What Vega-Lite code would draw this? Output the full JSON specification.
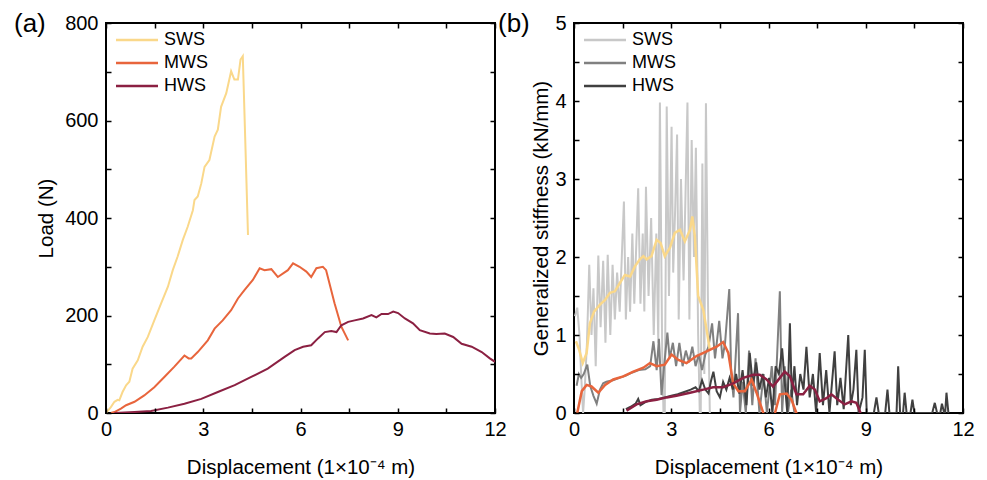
{
  "$schema": "https://vega.github.io/schema/vega-lite/v6.json",
  "padding": {"left": 13, "top": 10, "right": 5, "bottom": 2},
  "autosize": {"type": "pad"},
  "bounds": "flush",
  "spacing": 79,
  "datasets": {
    "load": [
      {"s":"SWS","x":0,"y":0},{"s":"SWS","x":0.15,"y":12},{"s":"SWS","x":0.26,"y":23},{"s":"SWS","x":0.36,"y":27},{"s":"SWS","x":0.41,"y":26},{"s":"SWS","x":0.51,"y":43},{"s":"SWS","x":0.62,"y":57},{"s":"SWS","x":0.72,"y":64},{"s":"SWS","x":0.82,"y":91},{"s":"SWS","x":0.98,"y":108},{"s":"SWS","x":1.13,"y":136},{"s":"SWS","x":1.29,"y":156},{"s":"SWS","x":1.49,"y":190},{"s":"SWS","x":1.7,"y":225},{"s":"SWS","x":1.91,"y":259},{"s":"SWS","x":2.06,"y":293},{"s":"SWS","x":2.21,"y":321},{"s":"SWS","x":2.37,"y":355},{"s":"SWS","x":2.52,"y":382},{"s":"SWS","x":2.68,"y":416},{"s":"SWS","x":2.73,"y":437},{"s":"SWS","x":2.83,"y":444},{"s":"SWS","x":2.94,"y":471},{"s":"SWS","x":3.04,"y":505},{"s":"SWS","x":3.19,"y":519},{"s":"SWS","x":3.35,"y":567},{"s":"SWS","x":3.45,"y":581},{"s":"SWS","x":3.55,"y":628},{"s":"SWS","x":3.71,"y":656},{"s":"SWS","x":3.86,"y":701},{"s":"SWS","x":3.96,"y":684},{"s":"SWS","x":4.07,"y":684},{"s":"SWS","x":4.15,"y":725},{"s":"SWS","x":4.22,"y":732},{"s":"SWS","x":4.3,"y":550},{"s":"SWS","x":4.38,"y":365},
      {"s":"MWS","x":0.15,"y":0},{"s":"MWS","x":0.26,"y":2},{"s":"MWS","x":0.46,"y":9},{"s":"MWS","x":0.62,"y":16},{"s":"MWS","x":0.88,"y":23},{"s":"MWS","x":1.18,"y":36},{"s":"MWS","x":1.49,"y":53},{"s":"MWS","x":1.8,"y":74},{"s":"MWS","x":2.11,"y":95},{"s":"MWS","x":2.42,"y":118},{"s":"MWS","x":2.55,"y":112},{"s":"MWS","x":2.63,"y":112},{"s":"MWS","x":2.83,"y":125},{"s":"MWS","x":3.14,"y":149},{"s":"MWS","x":3.35,"y":173},{"s":"MWS","x":3.6,"y":190},{"s":"MWS","x":3.86,"y":211},{"s":"MWS","x":4.07,"y":235},{"s":"MWS","x":4.27,"y":252},{"s":"MWS","x":4.53,"y":273},{"s":"MWS","x":4.74,"y":297},{"s":"MWS","x":4.89,"y":293},{"s":"MWS","x":5.1,"y":295},{"s":"MWS","x":5.3,"y":279},{"s":"MWS","x":5.61,"y":293},{"s":"MWS","x":5.77,"y":307},{"s":"MWS","x":5.97,"y":300},{"s":"MWS","x":6.18,"y":290},{"s":"MWS","x":6.33,"y":279},{"s":"MWS","x":6.49,"y":297},{"s":"MWS","x":6.69,"y":300},{"s":"MWS","x":6.79,"y":293},{"s":"MWS","x":7.05,"y":225},{"s":"MWS","x":7.26,"y":177},{"s":"MWS","x":7.47,"y":149},
      {"s":"HWS","x":0.26,"y":0},{"s":"HWS","x":0.88,"y":2},{"s":"HWS","x":1.39,"y":4},{"s":"HWS","x":1.91,"y":11},{"s":"HWS","x":2.42,"y":19},{"s":"HWS","x":2.94,"y":29},{"s":"HWS","x":3.45,"y":43},{"s":"HWS","x":3.97,"y":57},{"s":"HWS","x":4.48,"y":74},{"s":"HWS","x":4.99,"y":91},{"s":"HWS","x":5.51,"y":115},{"s":"HWS","x":5.82,"y":129},{"s":"HWS","x":6.08,"y":136},{"s":"HWS","x":6.33,"y":139},{"s":"HWS","x":6.54,"y":153},{"s":"HWS","x":6.75,"y":166},{"s":"HWS","x":6.95,"y":168},{"s":"HWS","x":7.11,"y":166},{"s":"HWS","x":7.26,"y":180},{"s":"HWS","x":7.47,"y":187},{"s":"HWS","x":7.67,"y":190},{"s":"HWS","x":7.93,"y":194},{"s":"HWS","x":8.19,"y":201},{"s":"HWS","x":8.34,"y":196},{"s":"HWS","x":8.5,"y":203},{"s":"HWS","x":8.7,"y":203},{"s":"HWS","x":8.86,"y":208},{"s":"HWS","x":9.01,"y":205},{"s":"HWS","x":9.22,"y":194},{"s":"HWS","x":9.47,"y":184},{"s":"HWS","x":9.68,"y":170},{"s":"HWS","x":9.99,"y":163},{"s":"HWS","x":10.19,"y":162},{"s":"HWS","x":10.45,"y":163},{"s":"HWS","x":10.71,"y":156},{"s":"HWS","x":10.97,"y":142},{"s":"HWS","x":11.28,"y":136},{"s":"HWS","x":11.59,"y":125},{"s":"HWS","x":11.84,"y":112},{"s":"HWS","x":12,"y":105}
    ],
    "raw": [
      {"s":"SWS","x":0.03,"y":1.24},{"s":"SWS","x":0.1,"y":1.35},{"s":"SWS","x":0.17,"y":1.0},{"s":"SWS","x":0.22,"y":0.5},{"s":"SWS","x":0.28,"y":0.0},{"s":"SWS","x":0.33,"y":0.3},{"s":"SWS","x":0.4,"y":0.9},{"s":"SWS","x":0.47,"y":1.9},{"s":"SWS","x":0.54,"y":1.0},{"s":"SWS","x":0.6,"y":1.6},{"s":"SWS","x":0.67,"y":0.6},{"s":"SWS","x":0.75,"y":2.02},{"s":"SWS","x":0.82,"y":1.1},{"s":"SWS","x":0.9,"y":1.95},{"s":"SWS","x":0.97,"y":0.9},{"s":"SWS","x":1.04,"y":2.03},{"s":"SWS","x":1.12,"y":1.0},{"s":"SWS","x":1.19,"y":1.9},{"s":"SWS","x":1.26,"y":1.2},{"s":"SWS","x":1.33,"y":1.8},{"s":"SWS","x":1.41,"y":1.3},{"s":"SWS","x":1.54,"y":2.71},{"s":"SWS","x":1.6,"y":1.2},{"s":"SWS","x":1.67,"y":2.0},{"s":"SWS","x":1.73,"y":1.3},{"s":"SWS","x":1.8,"y":2.3},{"s":"SWS","x":1.86,"y":1.4},{"s":"SWS","x":1.98,"y":2.88},{"s":"SWS","x":2.05,"y":1.4},{"s":"SWS","x":2.12,"y":2.3},{"s":"SWS","x":2.17,"y":1.3},{"s":"SWS","x":2.22,"y":2.9},{"s":"SWS","x":2.3,"y":1.5},{"s":"SWS","x":2.38,"y":2.5},{"s":"SWS","x":2.46,"y":1.0},{"s":"SWS","x":2.54,"y":2.3},{"s":"SWS","x":2.6,"y":0.9},{"s":"SWS","x":2.65,"y":3.98},{"s":"SWS","x":2.72,"y":0.8},{"s":"SWS","x":2.76,"y":0.0},{"s":"SWS","x":2.8,"y":0.0},{"s":"SWS","x":2.86,"y":3.93},{"s":"SWS","x":2.93,"y":1.5},{"s":"SWS","x":3.01,"y":3.67},{"s":"SWS","x":3.06,"y":1.8},{"s":"SWS","x":3.12,"y":2.6},{"s":"SWS","x":3.18,"y":3.57},{"s":"SWS","x":3.23,"y":1.2},{"s":"SWS","x":3.3,"y":3.0},{"s":"SWS","x":3.38,"y":1.7},{"s":"SWS","x":3.44,"y":2.8},{"s":"SWS","x":3.5,"y":3.98},{"s":"SWS","x":3.56,"y":1.2},{"s":"SWS","x":3.63,"y":3.5},{"s":"SWS","x":3.7,"y":2.0},{"s":"SWS","x":3.76,"y":3.4},{"s":"SWS","x":3.83,"y":1.0},{"s":"SWS","x":3.88,"y":0.0},{"s":"SWS","x":3.91,"y":0.0},{"s":"SWS","x":3.96,"y":3.2},{"s":"SWS","x":4.02,"y":0.5},{"s":"SWS","x":4.07,"y":3.97},{"s":"SWS","x":4.13,"y":1.5},{"s":"SWS","x":4.19,"y":0.0},
      {"s":"MWS","x":0.08,"y":0.35},{"s":"MWS","x":0.15,"y":0.5},{"s":"MWS","x":0.22,"y":0.45},{"s":"MWS","x":0.3,"y":0.5},{"s":"MWS","x":0.41,"y":0.62},{"s":"MWS","x":0.5,"y":0.35},{"s":"MWS","x":0.6,"y":0.22},{"s":"MWS","x":0.7,"y":0.12},{"s":"MWS","x":0.8,"y":0.3},{"s":"MWS","x":0.9,"y":0.38},{"s":"MWS","x":1.0,"y":0.4},{"s":"MWS","x":1.2,"y":0.42},{"s":"MWS","x":1.4,"y":0.45},{"s":"MWS","x":1.6,"y":0.48},{"s":"MWS","x":1.8,"y":0.52},{"s":"MWS","x":2.0,"y":0.55},{"s":"MWS","x":2.2,"y":0.56},{"s":"MWS","x":2.35,"y":0.6},{"s":"MWS","x":2.45,"y":0.92},{"s":"MWS","x":2.55,"y":0.55},{"s":"MWS","x":2.62,"y":0.95},{"s":"MWS","x":2.7,"y":0.23},{"s":"MWS","x":2.78,"y":0.6},{"s":"MWS","x":2.88,"y":1.03},{"s":"MWS","x":2.95,"y":0.7},{"s":"MWS","x":3.05,"y":0.9},{"s":"MWS","x":3.15,"y":0.6},{"s":"MWS","x":3.25,"y":0.9},{"s":"MWS","x":3.35,"y":0.6},{"s":"MWS","x":3.45,"y":0.8},{"s":"MWS","x":3.55,"y":0.65},{"s":"MWS","x":3.65,"y":0.85},{"s":"MWS","x":3.75,"y":0.6},{"s":"MWS","x":3.85,"y":0.75},{"s":"MWS","x":3.95,"y":0.55},{"s":"MWS","x":4.05,"y":0.75},{"s":"MWS","x":4.15,"y":0.85},{"s":"MWS","x":4.26,"y":1.15},{"s":"MWS","x":4.35,"y":0.7},{"s":"MWS","x":4.48,"y":1.18},{"s":"MWS","x":4.58,"y":0.7},{"s":"MWS","x":4.66,"y":0.9},{"s":"MWS","x":4.79,"y":1.59},{"s":"MWS","x":4.85,"y":0.5},{"s":"MWS","x":4.92,"y":0.2},{"s":"MWS","x":5.06,"y":1.28},{"s":"MWS","x":5.12,"y":0.0},{"s":"MWS","x":5.2,"y":0.4},{"s":"MWS","x":5.3,"y":0.0},{"s":"MWS","x":5.4,"y":0.8},{"s":"MWS","x":5.5,"y":0.1},{"s":"MWS","x":5.6,"y":0.7},{"s":"MWS","x":5.72,"y":0.0},{"s":"MWS","x":5.85,"y":0.5},{"s":"MWS","x":5.95,"y":0.0},{"s":"MWS","x":6.1,"y":0.6},{"s":"MWS","x":6.2,"y":0.1},{"s":"MWS","x":6.35,"y":1.56},{"s":"MWS","x":6.42,"y":0.0},{"s":"MWS","x":6.5,"y":0.6},{"s":"MWS","x":6.6,"y":0.0},{"s":"MWS","x":6.7,"y":0.3},{"s":"MWS","x":6.8,"y":0.0},
      {"s":"HWS","x":1.6,"y":0.05},{"s":"HWS","x":1.75,"y":0.08},{"s":"HWS","x":1.9,"y":0.12},{"s":"HWS","x":1.98,"y":0.18},{"s":"HWS","x":2.05,"y":0.1},{"s":"HWS","x":2.2,"y":0.14},{"s":"HWS","x":2.4,"y":0.17},{"s":"HWS","x":2.6,"y":0.18},{"s":"HWS","x":2.8,"y":0.2},{"s":"HWS","x":3.0,"y":0.22},{"s":"HWS","x":3.2,"y":0.24},{"s":"HWS","x":3.4,"y":0.27},{"s":"HWS","x":3.6,"y":0.3},{"s":"HWS","x":3.75,"y":0.33},{"s":"HWS","x":3.85,"y":0.28},{"s":"HWS","x":3.95,"y":0.42},{"s":"HWS","x":4.05,"y":0.3},{"s":"HWS","x":4.15,"y":0.25},{"s":"HWS","x":4.22,"y":0.4},{"s":"HWS","x":4.3,"y":0.53},{"s":"HWS","x":4.4,"y":0.28},{"s":"HWS","x":4.5,"y":0.2},{"s":"HWS","x":4.6,"y":0.4},{"s":"HWS","x":4.7,"y":0.3},{"s":"HWS","x":4.8,"y":0.45},{"s":"HWS","x":4.9,"y":0.3},{"s":"HWS","x":5.0,"y":0.5},{"s":"HWS","x":5.1,"y":0.25},{"s":"HWS","x":5.2,"y":0.55},{"s":"HWS","x":5.32,"y":0.1},{"s":"HWS","x":5.42,"y":0.77},{"s":"HWS","x":5.52,"y":0.35},{"s":"HWS","x":5.62,"y":0.65},{"s":"HWS","x":5.72,"y":0.3},{"s":"HWS","x":5.82,"y":0.5},{"s":"HWS","x":5.92,"y":0.2},{"s":"HWS","x":6.02,"y":0.45},{"s":"HWS","x":6.12,"y":0.0},{"s":"HWS","x":6.22,"y":0.6},{"s":"HWS","x":6.32,"y":0.5},{"s":"HWS","x":6.42,"y":0.83},{"s":"HWS","x":6.5,"y":0.4},{"s":"HWS","x":6.58,"y":0.0},{"s":"HWS","x":6.66,"y":1.15},{"s":"HWS","x":6.72,"y":0.2},{"s":"HWS","x":6.8,"y":0.6},{"s":"HWS","x":6.88,"y":0.1},{"s":"HWS","x":6.98,"y":0.5},{"s":"HWS","x":7.08,"y":0.3},{"s":"HWS","x":7.17,"y":0.85},{"s":"HWS","x":7.27,"y":0.2},{"s":"HWS","x":7.37,"y":0.5},{"s":"HWS","x":7.47,"y":0.0},{"s":"HWS","x":7.58,"y":0.77},{"s":"HWS","x":7.68,"y":0.1},{"s":"HWS","x":7.78,"y":0.55},{"s":"HWS","x":7.88,"y":0.0},{"s":"HWS","x":8.04,"y":0.79},{"s":"HWS","x":8.12,"y":0.1},{"s":"HWS","x":8.22,"y":0.45},{"s":"HWS","x":8.32,"y":0.05},{"s":"HWS","x":8.46,"y":1.0},{"s":"HWS","x":8.54,"y":0.1},{"s":"HWS","x":8.62,"y":0.3},{"s":"HWS","x":8.71,"y":0.81},{"s":"HWS","x":8.78,"y":0.0},{"s":"HWS","x":8.9,"y":0.2},{"s":"HWS","x":8.97,"y":0.81},{"s":"HWS","x":9.03,"y":0.0},{"s":"HWS","x":9.25,"y":0.0},{"s":"HWS","x":9.33,"y":0.2},{"s":"HWS","x":9.4,"y":0.0},{"s":"HWS","x":9.6,"y":0.0},{"s":"HWS","x":9.67,"y":0.3},{"s":"HWS","x":9.73,"y":0.0},{"s":"HWS","x":9.95,"y":0.0},{"s":"HWS","x":10.0,"y":0.6},{"s":"HWS","x":10.06,"y":0.0},{"s":"HWS","x":10.15,"y":0.0},{"s":"HWS","x":10.2,"y":0.26},{"s":"HWS","x":10.26,"y":0.0},{"s":"HWS","x":10.38,"y":0.0},{"s":"HWS","x":10.44,"y":0.17},{"s":"HWS","x":10.5,"y":0.0},{"s":"HWS","x":11.05,"y":0.0},{"s":"HWS","x":11.13,"y":0.13},{"s":"HWS","x":11.2,"y":0.0},{"s":"HWS","x":11.3,"y":0.0},{"s":"HWS","x":11.35,"y":0.12},{"s":"HWS","x":11.42,"y":0.0},{"s":"HWS","x":11.45,"y":0.0},{"s":"HWS","x":11.49,"y":0.26},{"s":"HWS","x":11.55,"y":0.0}
    ],
    "smooth": [
      {"s":"SWS","x":0.06,"y":0.92},{"s":"SWS","x":0.16,"y":0.81},{"s":"SWS","x":0.27,"y":0.64},{"s":"SWS","x":0.39,"y":0.77},{"s":"SWS","x":0.49,"y":1.15},{"s":"SWS","x":0.62,"y":1.3},{"s":"SWS","x":0.8,"y":1.39},{"s":"SWS","x":0.96,"y":1.45},{"s":"SWS","x":1.11,"y":1.54},{"s":"SWS","x":1.26,"y":1.56},{"s":"SWS","x":1.42,"y":1.67},{"s":"SWS","x":1.57,"y":1.77},{"s":"SWS","x":1.73,"y":1.75},{"s":"SWS","x":1.88,"y":1.88},{"s":"SWS","x":2.03,"y":1.97},{"s":"SWS","x":2.14,"y":2.01},{"s":"SWS","x":2.24,"y":1.97},{"s":"SWS","x":2.39,"y":2.01},{"s":"SWS","x":2.55,"y":2.22},{"s":"SWS","x":2.67,"y":2.18},{"s":"SWS","x":2.8,"y":2.01},{"s":"SWS","x":2.96,"y":2.12},{"s":"SWS","x":3.11,"y":2.31},{"s":"SWS","x":3.27,"y":2.35},{"s":"SWS","x":3.42,"y":2.2},{"s":"SWS","x":3.58,"y":2.35},{"s":"SWS","x":3.65,"y":2.52},{"s":"SWS","x":3.73,"y":2.26},{"s":"SWS","x":3.83,"y":1.5},{"s":"SWS","x":3.99,"y":1.32},{"s":"SWS","x":4.09,"y":1.07},{"s":"SWS","x":4.19,"y":0.81},
      {"s":"MWS","x":0.1,"y":0},{"s":"MWS","x":0.24,"y":0.28},{"s":"MWS","x":0.39,"y":0.36},{"s":"MWS","x":0.54,"y":0.34},{"s":"MWS","x":0.75,"y":0.26},{"s":"MWS","x":0.96,"y":0.36},{"s":"MWS","x":1.21,"y":0.43},{"s":"MWS","x":1.52,"y":0.47},{"s":"MWS","x":1.83,"y":0.53},{"s":"MWS","x":2.14,"y":0.58},{"s":"MWS","x":2.34,"y":0.64},{"s":"MWS","x":2.55,"y":0.6},{"s":"MWS","x":2.8,"y":0.62},{"s":"MWS","x":3.01,"y":0.75},{"s":"MWS","x":3.22,"y":0.68},{"s":"MWS","x":3.47,"y":0.64},{"s":"MWS","x":3.78,"y":0.73},{"s":"MWS","x":4.09,"y":0.79},{"s":"MWS","x":4.4,"y":0.85},{"s":"MWS","x":4.6,"y":0.91},{"s":"MWS","x":4.76,"y":0.77},{"s":"MWS","x":4.91,"y":0.38},{"s":"MWS","x":5.07,"y":0.28},{"s":"MWS","x":5.27,"y":0.28},{"s":"MWS","x":5.48,"y":0.43},{"s":"MWS","x":5.63,"y":0.26},{"s":"MWS","x":5.84,"y":0},{"s":"MWS","x":6.02,"y":-0.25},{"s":"MWS","x":6.2,"y":0},{"s":"MWS","x":6.35,"y":0.24},{"s":"MWS","x":6.56,"y":0.25},{"s":"MWS","x":6.71,"y":0.17},{"s":"MWS","x":6.86,"y":0},{"s":"MWS","x":7.0,"y":-0.2},
      {"s":"HWS","x":1.62,"y":0.03},{"s":"HWS","x":1.93,"y":0.11},{"s":"HWS","x":2.24,"y":0.15},{"s":"HWS","x":2.55,"y":0.17},{"s":"HWS","x":2.86,"y":0.2},{"s":"HWS","x":3.16,"y":0.22},{"s":"HWS","x":3.58,"y":0.26},{"s":"HWS","x":3.99,"y":0.3},{"s":"HWS","x":4.29,"y":0.33},{"s":"HWS","x":4.6,"y":0.33},{"s":"HWS","x":4.91,"y":0.38},{"s":"HWS","x":5.22,"y":0.45},{"s":"HWS","x":5.53,"y":0.49},{"s":"HWS","x":5.73,"y":0.49},{"s":"HWS","x":5.94,"y":0.43},{"s":"HWS","x":6.14,"y":0.34},{"s":"HWS","x":6.35,"y":0.45},{"s":"HWS","x":6.5,"y":0.53},{"s":"HWS","x":6.66,"y":0.47},{"s":"HWS","x":6.86,"y":0.24},{"s":"HWS","x":7.07,"y":0.24},{"s":"HWS","x":7.27,"y":0.35},{"s":"HWS","x":7.43,"y":0.3},{"s":"HWS","x":7.58,"y":0.15},{"s":"HWS","x":7.79,"y":0.19},{"s":"HWS","x":7.94,"y":0.24},{"s":"HWS","x":8.15,"y":0.17},{"s":"HWS","x":8.35,"y":0.11},{"s":"HWS","x":8.56,"y":0.15},{"s":"HWS","x":8.71,"y":0.13},{"s":"HWS","x":8.84,"y":0}
    ]
  },
  "hconcat": [
    {
      "width": 389,
      "height": 390,
      "title": {"text": "(a)", "dx": -92, "offset": -24},
      "layer": [
        {
          "data": {"name": "load"},
          "mark": {"type": "line", "strokeWidth": 2, "clip": true},
          "encoding": {
            "x": {"field": "x", "type": "quantitative", "scale": {"domain": [0, 12], "nice": false},
              "axis": {"orient": "bottom", "title": "Displacement (1×10⁻⁴ m)", "values": [0,1.5,3,4.5,6,7.5,9,10.5,12],
                "labelExpr": "datum.value % 3 === 0 ? format(datum.value, 'd') : ''",
                "domain": false, "ticks": true, "tickColor": "black", "tickOpacity": 1, "tickWidth": 1.5, "tickSize": 5, "tickOffset": 0, "tickDash": [], "tickCap": "butt", "offset": -5, "zindex": 1,
                "labelPadding": 6, "titlePadding": 18}},
            "y": {"field": "y", "type": "quantitative", "scale": {"domain": [0, 800], "nice": false},
              "axis": {"orient": "left", "title": "Load (N)", "values": [0,100,200,300,400,500,600,700,800],
                "labelExpr": "datum.value % 200 === 0 ? format(datum.value, 'd') : ''",
                "domain": false, "ticks": true, "tickColor": "black", "tickOpacity": 1, "tickWidth": 1.5, "tickSize": 5, "tickOffset": 0, "tickDash": [], "tickCap": "butt", "offset": -5, "zindex": 1,
                "labelPadding": 8, "titlePadding": 8}},
            "color": {"field": "s", "type": "nominal",
              "scale": {"domain": ["SWS", "MWS", "HWS"], "range": ["#FAD88A", "#E8653C", "#8B2042"]},
              "legend": {"orient": "none", "legendX": 19, "legendY": 5, "title": null}}
          }
        },
        {
          "data": {"name": "load"},
          "mark": {"type": "line", "strokeOpacity": 0},
          "encoding": {
            "x": {"field": "x", "type": "quantitative", "scale": {"domain": [0, 12], "nice": false},
              "axis": {"orient": "top", "title": null, "labels": false, "values": [0,1.5,3,4.5,6,7.5,9,10.5,12],
                "domain": false, "ticks": true, "tickColor": "black", "tickOpacity": 1, "tickWidth": 1.5, "tickSize": 5, "tickOffset": 0, "tickDash": [], "tickCap": "butt", "offset": -5, "zindex": 1}},
            "y": {"field": "y", "type": "quantitative", "scale": {"domain": [0, 800], "nice": false},
              "axis": {"orient": "right", "title": null, "labels": false, "values": [0,100,200,300,400,500,600,700,800],
                "domain": false, "ticks": true, "tickColor": "black", "tickOpacity": 1, "tickWidth": 1.5, "tickSize": 5, "tickOffset": 0, "tickDash": [], "tickCap": "butt", "offset": -5, "zindex": 1}},
            "detail": {"field": "s"}
          }
        }
      ],
      "resolve": {"axis": {"x": "independent", "y": "independent"}}
    },
    {
      "width": 389,
      "height": 390,
      "title": {"text": "(b)", "dx": -76, "offset": -24},
      "layer": [
        {
          "data": {"name": "raw"},
          "mark": {"type": "line", "strokeWidth": 2, "clip": true},
          "encoding": {
            "x": {"field": "x", "type": "quantitative", "scale": {"domain": [0, 12], "nice": false},
              "axis": {"orient": "bottom", "title": "Displacement (1×10⁻⁴ m)", "values": [0,1.5,3,4.5,6,7.5,9,10.5,12],
                "labelExpr": "datum.value % 3 === 0 ? format(datum.value, 'd') : ''",
                "domain": false, "ticks": true, "tickColor": "black", "tickOpacity": 1, "tickWidth": 1.5, "tickSize": 5, "tickOffset": 0, "tickDash": [], "tickCap": "butt", "offset": -5, "zindex": 1,
                "labelPadding": 6, "titlePadding": 18}},
            "y": {"field": "y", "type": "quantitative", "scale": {"domain": [0, 5], "nice": false},
              "axis": {"orient": "left", "title": "Generalized stiffness (kN/mm)", "values": [0,0.5,1,1.5,2,2.5,3,3.5,4,4.5,5],
                "labelExpr": "datum.value % 1 === 0 ? format(datum.value, 'd') : ''",
                "domain": false, "ticks": true, "tickColor": "black", "tickOpacity": 1, "tickWidth": 1.5, "tickSize": 5, "tickOffset": 0, "tickDash": [], "tickCap": "butt", "offset": -5, "zindex": 1,
                "labelPadding": 8, "titlePadding": 3}},
            "color": {"field": "s", "type": "nominal",
              "scale": {"domain": ["SWS", "MWS", "HWS"], "range": ["#C8C8C8", "#808080", "#404040"]},
              "legend": {"orient": "none", "legendX": 19, "legendY": 5, "title": null}}
          }
        },
        {
          "data": {"name": "smooth"},
          "mark": {"type": "line", "strokeWidth": 2.5, "clip": true},
          "encoding": {
            "x": {"field": "x", "type": "quantitative", "scale": {"domain": [0, 12], "nice": false}, "axis": null},
            "y": {"field": "y", "type": "quantitative", "scale": {"domain": [0, 5], "nice": false}, "axis": null},
            "color": {"field": "s", "type": "nominal",
              "scale": {"domain": ["SWS", "MWS", "HWS"], "range": ["#FAD88A", "#E8653C", "#8B2042"]},
              "legend": null}
          }
        },
        {
          "data": {"name": "raw"},
          "mark": {"type": "line", "strokeOpacity": 0},
          "encoding": {
            "x": {"field": "x", "type": "quantitative", "scale": {"domain": [0, 12], "nice": false},
              "axis": {"orient": "top", "title": null, "labels": false, "values": [0,1.5,3,4.5,6,7.5,9,10.5,12],
                "domain": false, "ticks": true, "tickColor": "black", "tickOpacity": 1, "tickWidth": 1.5, "tickSize": 5, "tickOffset": 0, "tickDash": [], "tickCap": "butt", "offset": -5, "zindex": 1}},
            "y": {"field": "y", "type": "quantitative", "scale": {"domain": [0, 5], "nice": false},
              "axis": {"orient": "right", "title": null, "labels": false, "values": [0,0.5,1,1.5,2,2.5,3,3.5,4,4.5,5],
                "domain": false, "ticks": true, "tickColor": "black", "tickOpacity": 1, "tickWidth": 1.5, "tickSize": 5, "tickOffset": 0, "tickDash": [], "tickCap": "butt", "offset": -5, "zindex": 1}},
            "detail": {"field": "s"}
          }
        }
      ],
      "resolve": {"axis": {"x": "independent", "y": "independent"}, "scale": {"color": "independent"}}
    }
  ],
  "resolve": {"scale": {"color": "independent"}},
  "config": {
    "font": "Liberation Sans",
    "view": {"stroke": "black", "strokeWidth": 2},
    "title": {"fontSize": 26, "fontWeight": "normal", "font": "Liberation Sans", "anchor": "start", "frame": "group", "color": "black"},
    "axis": {
      "grid": false, "ticks": true, "tickOpacity": 1, "tickColor": "black",
      "labelFont": "Liberation Sans", "labelFontSize": 20, "labelColor": "black",
      "labelFlush": false, "labelOverlap": false,
      "titleFont": "Liberation Sans", "titleFontSize": 20.5, "titleFontWeight": "normal", "titleColor": "black"
    },
    "axisX": {"ticks": true, "tickOpacity": 1, "tickColor": "black"},
    "axisY": {"ticks": true, "tickOpacity": 1, "tickColor": "black"},
    "axisQuantitative": {"ticks": true, "tickOpacity": 1, "tickColor": "black"},
    "legend": {
      "symbolType": "M-2,0H2", "symbolSize": 441, "symbolStrokeWidth": 2.5,
      "labelFont": "Liberation Sans", "labelFontSize": 18, "labelColor": "black",
      "labelOffset": 15, "rowPadding": 2, "padding": 0
    }
  }
}
